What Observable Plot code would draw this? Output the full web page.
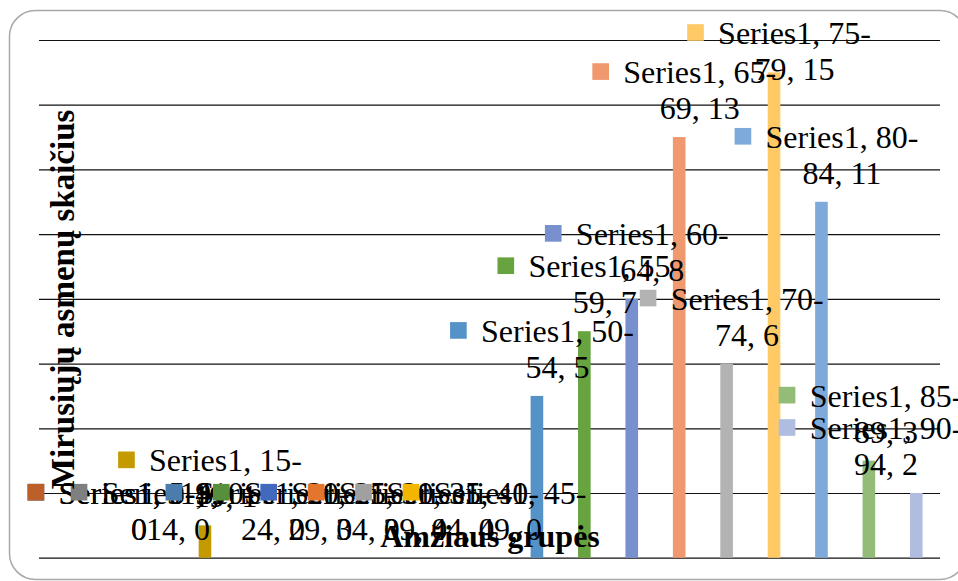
<!DOCTYPE html>
<html>
<head>
<meta charset="utf-8">
<script src="https://cdn.jsdelivr.net/npm/d3@7"></script>
<script src="https://cdn.jsdelivr.net/npm/@observablehq/plot@0.6"></script>
<style>
  html, body { margin: 0; padding: 0; background: #fff; overflow: hidden; width: 958px; height: 581px; }
  #chart { width: 958px; height: 581px; overflow: hidden; }
  svg { display: block; overflow: hidden !important; max-width: none !important; }
</style>
</head>
<body>
<div id="chart"></div>
<script>
// ---- data ----
const seriesName = "Series1";
const ageGroups = ["0-4","5-9","10-14","15-19","20-24","25-29","30-34","35-39","40-44","45-49",
                   "50-54","55-59","60-64","65-69","70-74","75-79","80-84","85-89","90-94"];
const deaths = [0,0,0,1,0,0,0,0,0,0,5,7,8,13,6,15,11,3,2];
const yTicks = [0,2,4,6,8,10,12,14,16];
const yTitle = "Mirusiųjų asmenų skaičius";
const xTitle = "Amžiaus grupės";

// ---- styles ----
const palette = ["#2F5597","#BD5F28","#7F7F7F","#C49A00","#4A7DAE","#578F3C","#4169BE","#E4752D","#A0A0A0","#F2B600",
                 "#5592C8","#67A33E","#7890CD","#F0986E","#B3B3B3","#FFC966","#7EAADB","#92BC78","#B0BDE0"];
const W = 958, H = 581;
const margin = {top: 40, right: 18, bottom: 23.3, left: 39};
const serif = "'Liberation Serif', 'Times New Roman', serif";
const labelSize = 32;

const rows = ageGroups.map((cat, i) => ({cat, value: deaths[i]}));

const xOpts = {type: "band", domain: ageGroups, range: [margin.left, W - margin.right], padding: 0, round: false};
const yOpts = {type: "linear", domain: [0, 16], range: [H - margin.bottom, margin.top]};
const xs = Plot.scale({x: xOpts});
const ys = Plot.scale({y: yOpts});

// text measuring for Excel-like label wrapping
const ctx = document.createElement("canvas").getContext("2d");
ctx.font = `${labelSize}px ${serif}`;
const measure = s => ctx.measureText(s).width;
function wrap(str, maxW) {
  const tokens = str.match(/[^ \-]*[ \-]+|[^ \-]+$/g);
  const lines = [];
  let cur = "";
  for (const t of tokens) {
    const test = cur + t;
    if (cur && measure(test.trimEnd()) > maxW) { lines.push(cur.trimEnd()); cur = t; }
    else cur = test;
  }
  lines.push(cur.trimEnd());
  return lines;
}

const labelMarks = [];
rows.forEach((d) => {
  const lines = wrap(`${seriesName}, ${d.cat}, ${d.value}`, 172);
  const w = Math.max(...lines.map(measure));
  const center = xs.apply(d.cat) + xs.bandwidth / 2;
  let cx = center + 20;
  cx = Math.max(cx, 58 + w / 2);
  cx = Math.min(cx, 962 - w / 2);
  const yPix = ys.apply(d.value);
  const blockC = Math.max(yPix - 48, 50);
  const markerCx = cx - w / 2 - 22.6;
  labelMarks.push(Plot.dot([d], {
    x: "cat", y: "value", fill: "cat", symbol: "square", r: 9.4, stroke: null,
    dx: markerCx - center, dy: blockC - 18 - yPix
  }));
  labelMarks.push(Plot.text([d], {
    x: "cat", y: "value", text: () => lines.join("\n"),
    dx: cx - center, dy: blockC - yPix,
    fontSize: labelSize, fontFamily: serif, fill: "black",
    lineHeight: 1.125, lineAnchor: "middle", textAnchor: "middle"
  }));
});

const chart = Plot.plot({
  width: W, height: H,
  marginTop: margin.top, marginRight: margin.right, marginBottom: margin.bottom, marginLeft: margin.left,
  style: {fontFamily: serif, background: "#fff", overflow: "hidden"},
  x: {...xOpts, axis: null},
  y: {...yOpts, axis: null},
  color: {type: "ordinal", domain: ageGroups, range: palette},
  marks: [
    Plot.ruleY(yTicks, {stroke: "#111", strokeWidth: 1.2}),
    Plot.barY(rows, {x: "cat", y: "value", fill: "cat", insetLeft: 17.4, insetRight: 17.4}),
    ...labelMarks,
    Plot.text([yTitle], {text: d => d, frameAnchor: "left", rotate: -90, dx: 24,
      fontSize: 33, fontWeight: "bold", fontFamily: serif, fill: "black",
      textAnchor: "middle", lineAnchor: "middle"}),
    Plot.text([xTitle], {text: d => d, frameAnchor: "bottom", dy: -21,
      fontSize: 32, fontWeight: "bold", fontFamily: serif, fill: "black",
      textAnchor: "middle", lineAnchor: "middle"})
  ]
});

// rounded chart-area border: left, top and bottom edges only (the right edge lies past the picture)
const border = document.createElementNS("http://www.w3.org/2000/svg", "path");
border.setAttribute("d", "M 940 10.5 A 26 26 0 0 1 966 36.5 M 966 553.5 A 26 26 0 0 1 940 579.5 M 940 10.5 H 35.5 A 26 26 0 0 0 9.5 36.5 V 553.5 A 26 26 0 0 0 35.5 579.5 H 940");
border.setAttribute("fill", "none");
border.setAttribute("stroke", "#a8a8a8");
border.setAttribute("stroke-width", 1.5);
const firstG = chart.querySelector("g");
chart.insertBefore(border, firstG);
document.getElementById("chart").appendChild(chart);
</script>
</body>
</html>
